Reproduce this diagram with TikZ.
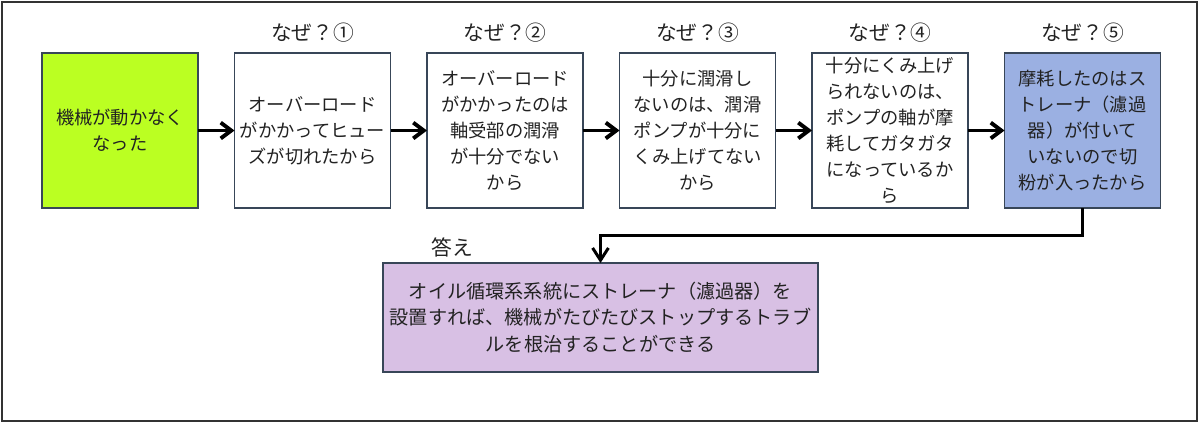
\documentclass[tikz,border=0pt]{standalone}
\usepackage{fontspec}
\setmainfont{Noto Sans CJK JP}
\usetikzlibrary{positioning,arrows.meta}
\definecolor{kikaigreen}{RGB}{187,255,34}
\definecolor{genblue}{RGB}{155,176,226}
\definecolor{kotaepurple}{RGB}{216,192,228}
\definecolor{waku}{RGB}{56,70,88}
\definecolor{moji}{RGB}{34,34,34}

\begin{document}
\begin{tikzpicture}[
        every node/.style={text=moji, font=\fontsize{10.4pt}{14.7pt}\selectfont},
        naze/.style={draw=waku, line width=0.75pt, fill=white, align=center,
            minimum width=3.12cm, minimum height=3.1cm, inner sep=1pt, outer sep=0pt},
        nazelabel/.style={inner sep=0pt, font=\fontsize{11.8pt}{14pt}\selectfont},
        yaji/.style={line width=2.2pt, -{Straight Barb[length=6pt, width=9pt]}}
    ]
    \useasboundingbox (0,0) rectangle (24,-8.48);
    \draw[line width=1.1pt, draw=black!80] (0.04,-0.04) rectangle (23.94,-8.42);

    \node (b1) [naze, fill=kikaigreen] at (2.4,-2.61) {機械が動かなく\\なった};
    \node (b2) [naze, right=0.73cm of b1] {オーバーロード\\がかかってヒュー\\ズが切れたから};
    \node (b3) [naze, right=0.73cm of b2] {オーバーロード\\がかかったのは\\軸受部の潤滑\\が十分でない\\から};
    \node (b4) [naze, right=0.73cm of b3] {十分に潤滑し\\ないのは、潤滑\\ポンプが十分に\\くみ上げてない\\から};
    \node (b5) [naze, right=0.73cm of b4] {十分にくみ上げ\\られないのは、\\ポンプの軸が摩\\耗してガタガタ\\になっているか\\ら};
    \node (b6) [naze, right=0.73cm of b5, fill=genblue] {摩耗したのはス\\トレーナ（濾過\\器）が付いて\\いないので切\\粉が入ったから};

    \node (w1) [nazelabel, above=0.2cm of b2] {なぜ？①};
    \node (w2) [nazelabel, above=0.2cm of b3] {なぜ？②};
    \node (w3) [nazelabel, above=0.2cm of b4] {なぜ？③};
    \node (w4) [nazelabel, above=0.2cm of b5] {なぜ？④};
    \node (w5) [nazelabel, above=0.2cm of b6] {なぜ？⑤};

    \node (ans) [naze, fill=kotaepurple, minimum width=8.7cm, minimum height=2.18cm,
        font=\fontsize{10.9pt}{15.3pt}\selectfont] at (12.01,-6.35)
        {オイル循環系系統にストレーナ（濾過器）を\\設置すれば、機械がたびたびストップするトラブ\\ルを根治することができる};
    \node (ansl) [nazelabel, above right=0.1cm and 0.96cm of ans.north west] {答え};

    \draw[yaji] (b1) -- (b2);
    \draw[yaji] (b2) -- (b3);
    \draw[yaji] (b3) -- (b4);
    \draw[yaji] (b4) -- (b5);
    \draw[yaji] (b5) -- (b6);
    \draw[line width=1.7pt, -{Straight Barb[length=7pt, width=9pt]}]
        (b6.south) -- ++(0,-0.54) -| (ans.north);
\end{tikzpicture}
\end{document}
